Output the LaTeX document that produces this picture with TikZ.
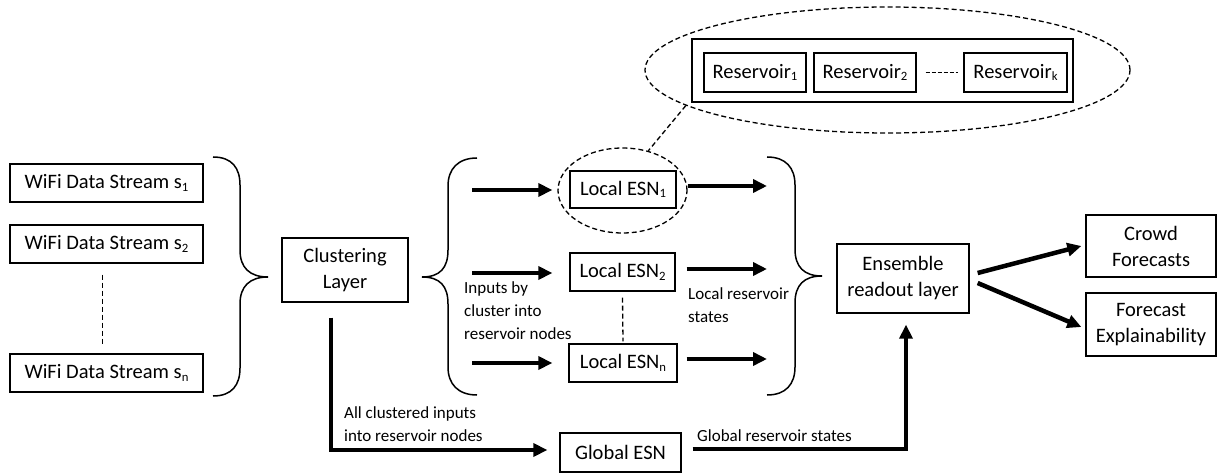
\documentclass[tikz,border=0pt]{standalone}
\usepackage{fontspec}
\setmainfont{Carlito}
\usetikzlibrary{arrows.meta,shapes.geometric}
\newcommand{\mysb}[1]{\raisebox{-0.12em}{\fontsize{0.62em}{0.62em}\selectfont #1}}
\begin{document}
\begin{tikzpicture}[x=1pt,y=-1pt,
  box/.style={draw, line width=1.3pt, inner sep=0pt, align=center, font=\fontsize{20.5}{26}\selectfont},
  lbl/.style={inner sep=0pt, align=left, font=\fontsize{17}{23}\selectfont, anchor=north west},
  dsh/.style={line width=1.3pt, dash pattern=on 5pt off 3pt},
  dell/.style={draw, ellipse, dsh, inner sep=0pt},
  thk/.style={line width=4.5pt, -{Triangle[length=14pt,width=13pt]}},
  br/.style={line width=1.5pt},
]
\useasboundingbox (0,0) rectangle (1218,473);

% input streams
\node[box, minimum width=193pt, minimum height=38pt] (w1) at (106.5,183) {WiFi Data Stream s\mysb{1}};
\node[box, minimum width=193pt, minimum height=38pt] (w2) at (106.5,244) {WiFi Data Stream s\mysb{2}};
\node[box, minimum width=193pt, minimum height=38pt] (wn) at (106.5,373) {WiFi Data Stream s\mysb{n}};
\draw[dsh] ([xshift=-4pt,yshift=-11pt]w2.south) -- ([xshift=-4pt,yshift=9pt]wn.north);

% brace 1
\draw[br] (213,157) .. controls (232,157) and (240,168) .. (240,185) -- (240,250)
  .. controls (240,268) and (250,277) .. (268,277)
  .. controls (250,277) and (240,286) .. (240,304) -- (240,368)
  .. controls (240,385) and (232,396) .. (213,396);

% clustering
\node[box, minimum width=126pt, minimum height=64pt] (cl) at (345,270) {Clustering\\Layer};

% brace 2
\draw[br] (477,158) .. controls (458,158) and (448,169) .. (448,186) -- (448,250)
  .. controls (448,268) and (440,277) .. (422,277)
  .. controls (440,277) and (448,286) .. (448,304) -- (448,367)
  .. controls (448,384) and (458,395) .. (477,395);

% local ESNs
\node[box, minimum width=106pt, minimum height=37pt] (e1) at (623,189.5) {Local ESN\mysb{1}};
\node[dell, minimum width=129pt, minimum height=85pt] (ell1) at (622.5,190.5) {};
\node[box, minimum width=105pt, minimum height=38pt] (e2) at (622.5,272) {Local ESN\mysb{2}};
\node[box, minimum width=108pt, minimum height=38pt] (en) at (623,363) {Local ESN\mysb{n}};
\draw[dsh] ([yshift=-6pt]e2.south) -- ([yshift=2pt]en.north);

% reservoirs
\node[dell, minimum width=485pt, minimum height=126pt] (bigell) at (887.5,70) {};
\node[box, minimum width=381pt, minimum height=63pt] (grp) at (882.5,70.5) {};
\node[box, minimum width=102pt, minimum height=39pt] (r1) at (755,72.5) {Reservoir\mysb{1}};
\node[box, minimum width=102pt, minimum height=39pt] (r2) at (865,72.5) {Reservoir\mysb{2}};
\node[box, minimum width=103pt, minimum height=39pt] (rk) at (1015.5,72.5) {Reservoir\mysb{k}};
\draw[line width=1.2pt, dash pattern=on 4pt off 2pt] ([xshift=9pt]r2.east) -- ([xshift=-5pt]rk.west);
\draw[dsh] (bigell.190) -- (ell1.57);

% inputs arrows
\coordinate (i1) at (472,190);
\coordinate (i2) at (472,273);
\coordinate (i3) at (472,363);
\draw[thk, shorten >=5pt] (i1) -- (i1 -| ell1.west);
\draw[thk, shorten >=17pt] (i2) -- (i2 -| e2.west);
\draw[thk, shorten >=16pt] (i3) -- (i3 -| en.west);

% output arrows of local ESNs
\coordinate (o1) at (767,186);
\coordinate (o2) at (767,269);
\coordinate (o3) at (767,359);
\draw[thk] (o1 -| ell1.east) -- (o1);
\draw[thk, shorten <=11pt] (o2 -| e2.east) -- (o2);
\draw[thk, shorten <=9pt] (o3 -| en.east) -- (o3);

% brace 3
\draw[br] (767,157) .. controls (786,157) and (795,168) .. (795,185) -- (795,249)
  .. controls (795,267) and (804,276) .. (822,276)
  .. controls (804,276) and (795,285) .. (795,303) -- (795,367)
  .. controls (795,384) and (786,395) .. (767,395);

% global ESN
\node[box, minimum width=121pt, minimum height=39pt] (g) at (620.5,452.5) {Global ESN};
\coordinate (cd) at (331,450);
\draw[thk, shorten >=12pt] ([xshift=-14pt,yshift=-15pt]cl.south) -- (cd) -- (g.west |- cd);

% ensemble
\node[box, minimum width=132pt, minimum height=69pt] (ens) at (903,278.5) {Ensemble\\readout layer};
\coordinate (gu) at (906,449);
\draw[thk, shorten <=11pt, shorten >=11pt] (g.east |- gu) -- (gu) -- (gu |- ens.south);

% outputs
\node[box, minimum width=130pt, minimum height=62pt] (crowd) at (1151,246) {Crowd\\Forecasts};
\node[box, minimum width=130pt, minimum height=63pt] (expl) at (1151,324.5) {Forecast\\Explainability};
\draw[thk] ([xshift=8pt,yshift=5.5pt]ens.east) -- ([xshift=-4pt]crowd.west);
\draw[thk] ([xshift=8pt,yshift=-4.5pt]ens.east) -- ([xshift=-4pt,yshift=-2.5pt]expl.west);

% labels
\node[lbl] (lb1) at (464,281) {Inputs by\\cluster into\\reservoir nodes};
\node[lbl] (lb2) at (688,287) {Local reservoir\\states};
\node[lbl] (lb3) at (344,406) {All clustered inputs\\into reservoir nodes};
\node[lbl] (lb4) at (697,429) {Global reservoir states};
\end{tikzpicture}
\end{document}
